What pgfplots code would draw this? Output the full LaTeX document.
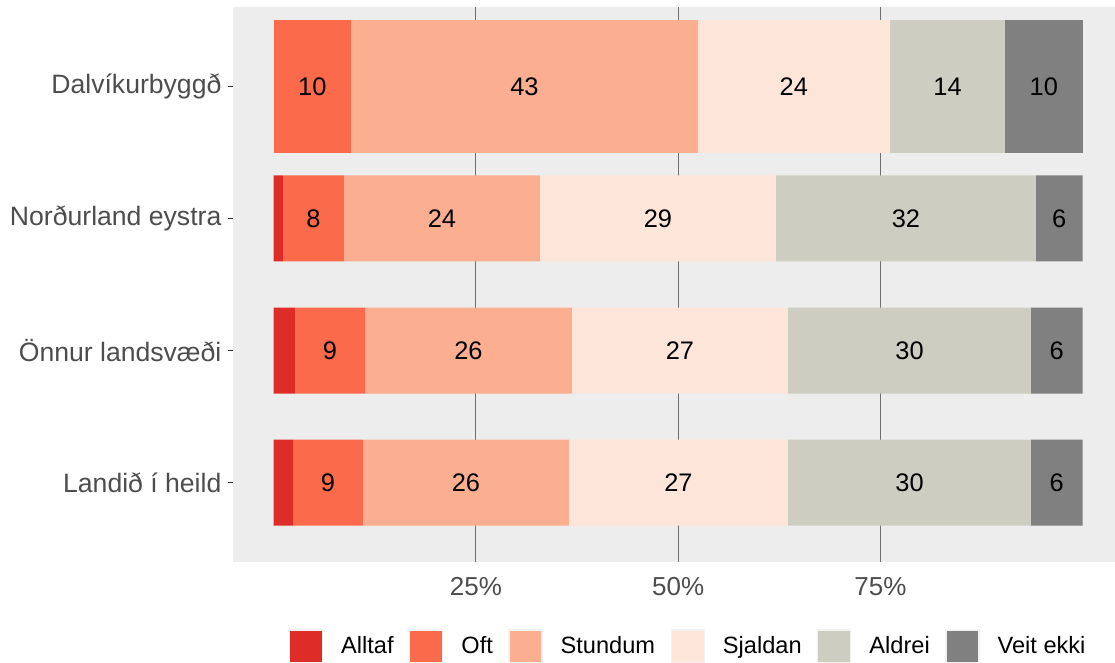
\documentclass[border=0pt]{standalone}
\usepackage{fontspec}
\setmainfont{Liberation Sans}
\usepackage{pgfplots}
\pgfplotsset{compat=1.18}
\definecolor{cAlltaf}{HTML}{DE2D26}
\definecolor{cOft}{HTML}{FB6A4A}
\definecolor{cStundum}{HTML}{FCAE91}
\definecolor{cSjaldan}{HTML}{FEE5D9}
\definecolor{cAldrei}{HTML}{CDCDC1}
\definecolor{cVeit}{HTML}{808080}
\definecolor{panel}{HTML}{EDEDED}
\definecolor{gridc}{HTML}{6E6E6E}
\definecolor{tickc}{HTML}{333333}
\definecolor{labc}{HTML}{4D4D4D}
\definecolor{legbord}{HTML}{F2F2F2}
\pgfplotsset{
  base/.style={scale only axis, width=441pt, height=277.5pt,
    xmin=-5.03, xmax=104.0, ymin=0.4, ymax=4.6, y dir=reverse,
    at={(0,0)}, anchor=south west},
  seg/.style={draw=none, draw opacity=0, line width=0pt, fill=#1,
    legend image code/.code={\draw[fill=#1, draw=legbord, draw opacity=1, line width=0.6pt] (0pt,-8.25pt) rectangle (16.5pt,8.25pt);}},
}
\begin{document}
\begin{tikzpicture}
% main axis: background, grid, ticks, legend, first row
\begin{axis}[base,
  xbar stacked, bar width=66.5pt,
  axis background/.style={fill=panel},
  axis line style={draw=none},
  xmajorgrids, major grid style={draw=gridc, line width=0.55pt},
  xtick={25,50,75}, xticklabels={25\%,50\%,75\%},
  xtick style={draw=none},
  ytick={1,2,3,4},
  yticklabels={Dalvíkurbyggð,Norðurland eystra,Önnur landsvæði,Landið í heild},
  ytick pos=left, tick align=outside, major tick length=2.6pt,
  ytick style={draw=tickc, line width=0.55pt},
  yticklabel style={font=\fontsize{13.3}{15}\selectfont, text=labc, inner sep=0pt, xshift=-3pt},
  xticklabel style={font=\fontsize{13}{15}\selectfont, text=labc, inner sep=0pt, yshift=-5pt},
  legend columns=6,
  legend style={draw=none, fill=none, at={(0.515,-0.1523)}, anchor=center,
    font=\fontsize{11.8}{13}\selectfont,
    nodes={inner sep=0pt},
    /tikz/every odd column/.append style={column sep=9pt},
    /tikz/every even column/.append style={column sep=7.8pt}},
]
\addplot[seg=cAlltaf]  coordinates {(0,1)};     \addlegendentry{Alltaf}
\addplot[seg=cOft]     coordinates {(9.55,1)};  \addlegendentry{Oft}
\addplot[seg=cStundum] coordinates {(42.9,1)};  \addlegendentry{Stundum}
\addplot[seg=cSjaldan] coordinates {(23.73,1)}; \addlegendentry{Sjaldan}
\addplot[seg=cAldrei]  coordinates {(14.22,1)}; \addlegendentry{Aldrei}
\addplot[seg=cVeit]    coordinates {(9.6,1)};   \addlegendentry{Veit ekki}
\end{axis}
% other rows (narrower bars)
\begin{axis}[base, hide axis, xbar stacked, bar width=43pt]
\addplot[seg=cAlltaf]  coordinates {(1.15,2) (2.63,3) (2.39,4)};
\addplot[seg=cOft]     coordinates {(7.54,2) (8.66,3) (8.65,4)};
\addplot[seg=cStundum] coordinates {(24.23,2) (25.58,3) (25.46,4)};
\addplot[seg=cSjaldan] coordinates {(29.17,2) (26.70,3) (27.07,4)};
\addplot[seg=cAldrei]  coordinates {(32.14,2) (30.03,3) (30.03,4)};
\addplot[seg=cVeit]    coordinates {(5.77,2) (6.40,3) (6.40,4)};
\end{axis}
% value labels
\begin{axis}[base, hide axis]
\addplot[draw=none, mark=none, nodes near coords, point meta=explicit symbolic,
  nodes near coords align={center},
  every node near coord/.append style={anchor=center, font=\fontsize{12.7}{14}\selectfont, text=black}]
 coordinates {
  (4.78,1) [10] (31.0,1) [43] (64.3,1) [24] (83.3,1) [14] (95.2,1) [10]
  (4.92,2) [8] (20.8,2) [24] (47.5,2) [29] (78.16,2) [32] (97.1,2) [6]
  (6.96,3) [9] (24.08,3) [26] (50.22,3) [27] (78.6,3) [30] (96.8,3) [6]
  (6.72,4) [9] (23.77,4) [26] (50.04,4) [27] (78.6,4) [30] (96.8,4) [6]
 };
\end{axis}
\pgfresetboundingbox
\path[use as bounding box] (-116.5pt,-50.5pt) rectangle (441pt,281pt);
\end{tikzpicture}
\end{document}
